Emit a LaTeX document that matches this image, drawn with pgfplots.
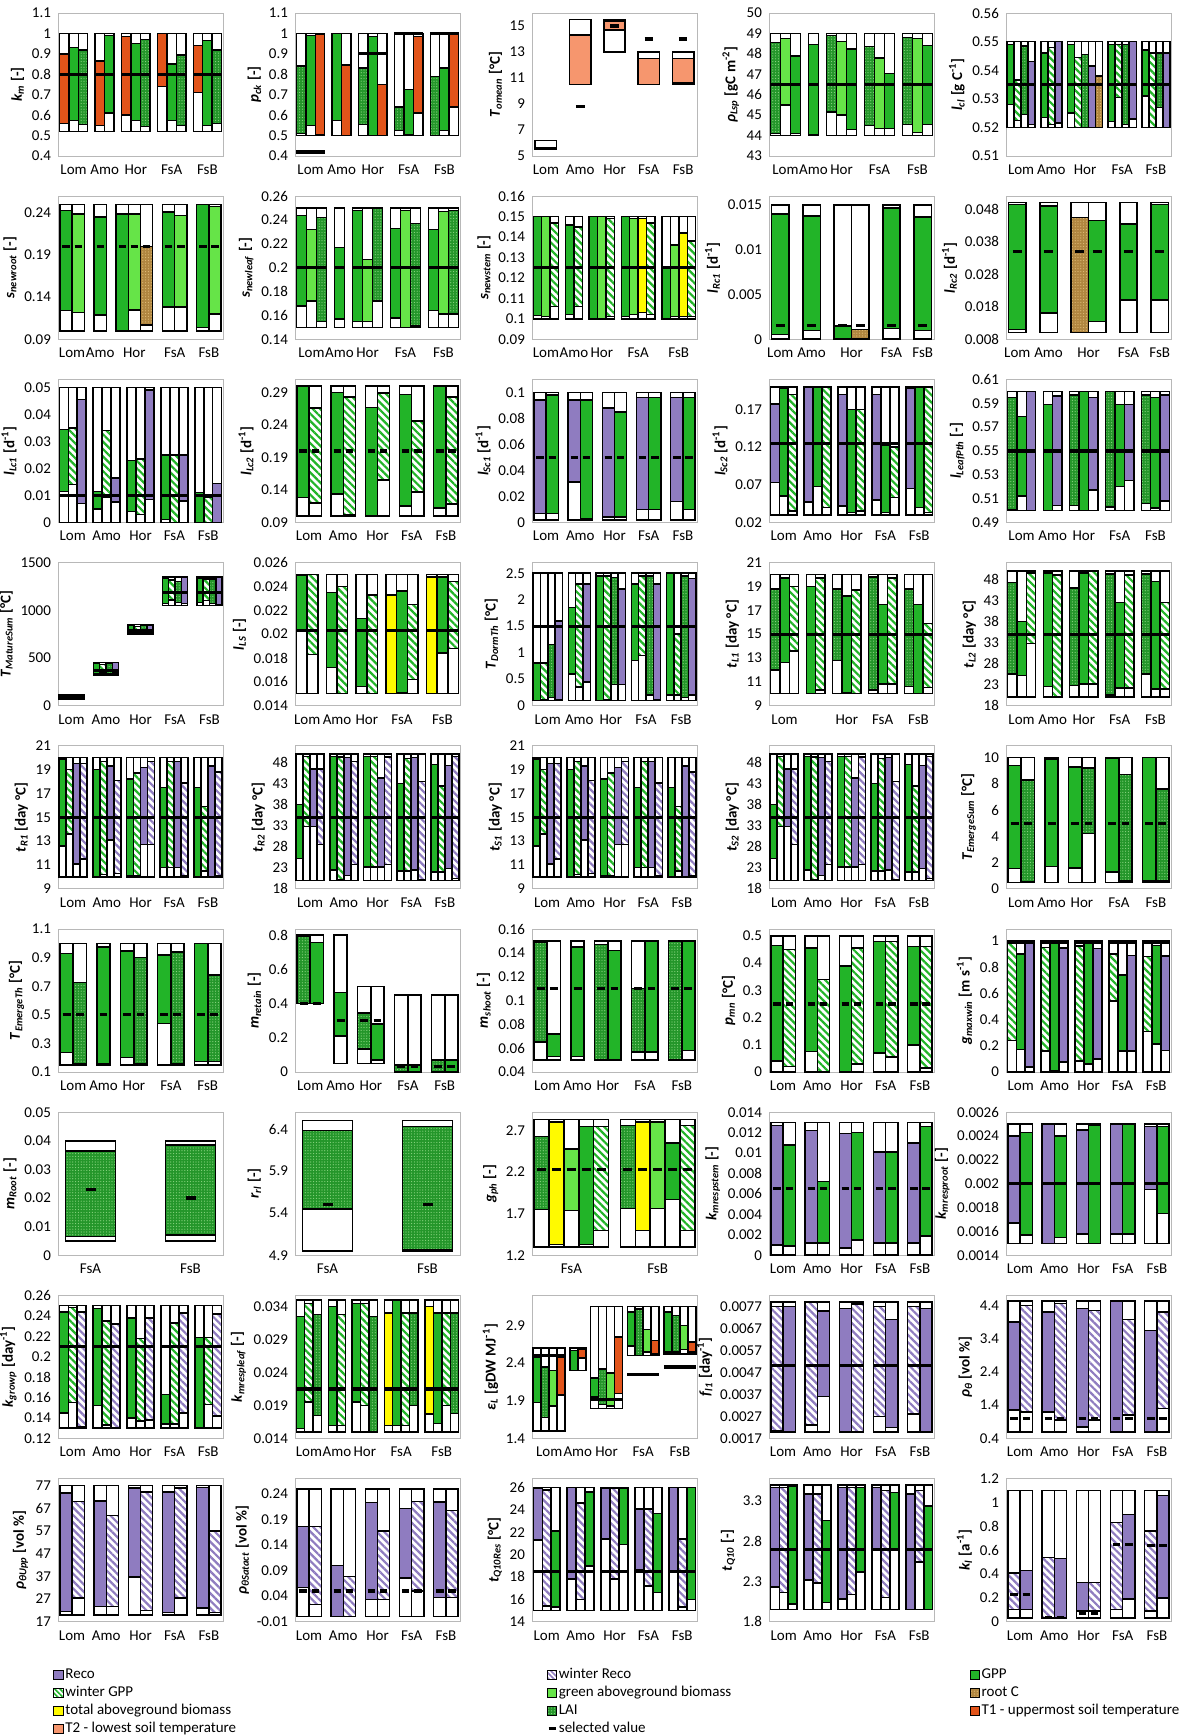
\documentclass[border=0pt]{standalone}
\usepackage{pgfplots}
\pgfplotsset{compat=1.18}
\usepgfplotslibrary{groupplots}
\usetikzlibrary{patterns.meta,calc}
\usepackage{fontspec}
\setmainfont{Carlito}

\definecolor{cR}{RGB}{143,124,192}
\definecolor{cG}{RGB}{34,180,40}
\definecolor{cGB}{RGB}{102,228,72}
\definecolor{cL}{RGB}{36,150,42}
\definecolor{cLd}{RGB}{140,215,130}
\definecolor{cRC}{RGB}{176,134,64}
\definecolor{cRCd}{RGB}{225,190,120}
\definecolor{cTB}{RGB}{255,250,0}
\definecolor{cT1}{RGB}{226,84,26}
\definecolor{cT2}{RGB}{246,150,110}

\newcommand\tk{\fontsize{7.5}{8.5}\selectfont}
\newcommand\lgf{\fontsize{7.5}{8.5}\selectfont}
\newcommand\yl[3]{\textit{#1}\textsubscript{\textit{#2}} [#3]}

\pgfplotsset{
  sN/.style={draw=none,fill=none},
  sR/.style={fill=cR},
  sG/.style={fill=cG},
  sGB/.style={fill=cGB},
  sTB/.style={fill=cTB},
  sT1/.style={fill=cT1},
  sT2/.style={fill=cT2},
  sWR/.style={preaction={fill=white},pattern={Lines[angle=-45,distance=2.6pt,line width=1.1pt]},pattern color=cR},
  sWG/.style={preaction={fill=white},pattern={Lines[angle=-45,distance=2.6pt,line width=1.1pt]},pattern color=cG},
  sL/.style={preaction={fill=cL},pattern={Dots[radius=0.3pt,distance=1.4pt]},pattern color=cLd},
  sRC/.style={preaction={fill=cRC},pattern={Dots[radius=0.3pt,distance=1.4pt]},pattern color=cRCd},
  lsq/.style={legend image code/.code={\draw[draw=black,line width=0.4pt,#1] (0pt,-2.3pt) rectangle (4.6pt,2.3pt);}},
}

\newif\ifperbar
\def\curx{0}\def\pmn{0}\def\pmx{1}\def\gapw{0.8}\def\selin{0.2}\def\cursel{}
\newcommand\St[2]{\gdef\pmn{#1}\gdef\pmx{#2}\gdef\curx{0}\gdef\gapw{0.8}\gdef\selin{0.2}\global\perbarfalse}
\newcommand\PR[2]{\gdef\pmn{#1}\gdef\pmx{#2}}
\newcommand\B[3]{%
  \pgfmathsetmacro\bxa{\curx}\pgfmathsetmacro\bxb{\curx+1}%
  \edef\dotmp{\noexpand\addplot[draw=black,line width=0.75pt,fill=white] coordinates {(\bxa,\pmn)(\bxb,\pmn)(\bxb,\pmx)(\bxa,\pmx)} -- cycle;}\dotmp
  \edef\dotmp{\noexpand\addplot[draw=black,line width=0.75pt,s#1] coordinates {(\bxa,#2)(\bxb,#2)(\bxb,#3)(\bxa,#3)} -- cycle;}\dotmp
  \ifperbar\ifx\cursel\empty\else
    \pgfmathsetmacro\bsa{\bxa+\selin}\pgfmathsetmacro\bsb{\bxb-\selin}%
    \edef\dotmp{\noexpand\addplot[black,line width=1.6pt] coordinates {(\bsa,\cursel)(\bsb,\cursel)};}\dotmp
  \fi\fi
  \xdef\curx{\bxb}}
\newcommand\Site[3]{%
  \xdef\sstart{\curx}\gdef\cursel{#2}%
  #3%
  \ifperbar\else\ifx\cursel\empty\else
    \edef\dotmp{\noexpand\addplot[black,line width=1.6pt] coordinates {(\sstart,\cursel)(\curx,\cursel)};}\dotmp
  \fi\fi
  \pgfmathsetmacro\smid{(\sstart+\curx)/2}%
  \edef\dotmp{\noexpand\node[anchor=north,font=\noexpand\tk,inner sep=0pt,yshift=-4.2pt] at ({axis cs:\smid,0}|-{rel axis cs:0,0}) {#1};}\dotmp
  \pgfmathsetmacro\nxt{\curx+\gapw}\xdef\curx{\nxt}}

\newcommand\tRa{%
\Site{Lom}{15}{\B{G}{12.6}{19.9}\B{WG}{13.6}{19.0}\B{R}{11.1}{19.5}\B{WR}{11.5}{19.5}}
\Site{Amo}{15}{\B{G}{10}{19.0}\B{WG}{10.2}{19.7}\B{R}{13.1}{19.3}\B{WR}{10.3}{18.1}}
\Site{Hor}{15}{\B{G}{10.1}{18.2}\B{WG}{10.1}{18.7}\B{R}{12.7}{19.2}\B{WR}{12.7}{19.7}}
\Site{FsA}{15}{\B{G}{10.8}{17.5}\B{WG}{10.8}{19.7}\B{R}{10.8}{19.7}\B{WR}{10.1}{17.9}}
\Site{FsB}{15}{\B{G}{10}{17.5}\B{WG}{10.5}{15.9}\B{R}{10}{19.3}\B{WR}{10.1}{18.8}}}
\newcommand\tRb{%
\Site{Lom}{35}{\B{G}{25.2}{38}\B{WG}{32.8}{49.5}\B{R}{32.8}{46.5}\B{WR}{28.5}{46.5}}
\Site{Amo}{35}{\B{G}{22.5}{49.5}\B{WG}{20.1}{49.3}\B{R}{21.2}{49.2}\B{WR}{23.8}{48.3}}
\Site{Hor}{35}{\B{G}{23.2}{49.5}\B{WG}{23.2}{49.5}\B{R}{23.2}{44.3}\B{WR}{23.8}{49.3}}
\Site{FsA}{35}{\B{G}{22.2}{43}\B{WG}{22.2}{49}\B{R}{22.5}{49.2}\B{WR}{20.2}{43.5}}
\Site{FsB}{35}{\B{G}{22}{47.5}\B{WG}{22}{42.5}\B{R}{22.8}{47.3}\B{WR}{20.5}{49.5}}}

\begin{document}
\begin{tikzpicture}
\begin{groupplot}[group style={group size=5 by 9, horizontal sep=36pt, vertical sep=20.1pt},
  scale only axis, width=82.5pt, height=71.5pt, clip=false,
  axis line style={draw=black!28}, major tick length=0pt, xtick=\empty,
  enlarge x limits={abs=0.15}, scaled y ticks=false,
  /pgf/number format/fixed, /pgf/number format/precision=4, /pgf/number format/1000 sep={},
  /pgf/number format/assume math mode=true,
  tick label style={font=\tk}, ylabel style={font=\tk\bfseries}, ylabel shift=-3pt]

% 1 k_m
\nextgroupplot[ymin=0.4,ymax=1.1,ytick={0.4,0.5,0.6,0.7,0.8,0.9,1,1.1},ylabel={\yl{k}{m}{-}}]
\St{0.52}{1}
\Site{Lom}{0.8}{\B{T1}{0.56}{0.9}\B{G}{0.575}{0.93}\B{L}{0.555}{0.92}}
\Site{Amo}{0.8}{\B{T1}{0.55}{0.865}\B{G}{0.61}{0.99}}
\Site{Hor}{0.8}{\B{T1}{0.6}{0.985}\B{G}{0.575}{0.95}\B{L}{0.545}{0.97}}
\Site{FsA}{0.8}{\B{T1}{0.74}{1}\B{G}{0.575}{0.85}\B{L}{0.55}{0.895}}
\Site{FsB}{0.8}{\B{T1}{0.71}{0.94}\B{G}{0.55}{0.965}\B{L}{0.56}{0.92}}
% 2 p_ck
\nextgroupplot[ymin=0.4,ymax=1.1,ytick={0.4,0.5,0.6,0.7,0.8,0.9,1,1.1},ylabel={\yl{p}{ck}{-}}]
\St{0.5}{1}
\Site{Lom}{0.42}{\B{L}{0.51}{0.84}\B{G}{0.55}{0.99}\B{T1}{0.505}{0.995}}
\Site{Amo}{}{\B{G}{0.575}{1}\B{T1}{0.5}{0.845}}
\Site{Hor}{0.9}{\B{L}{0.555}{0.83}\B{G}{0.5}{0.985}\B{T1}{0.5}{0.75}}
\Site{FsA}{1}{\B{L}{0.525}{0.64}\B{G}{0.505}{0.725}\B{T1}{0.61}{0.985}}
\Site{FsB}{1}{\B{L}{0.5}{0.79}\B{G}{0.525}{0.83}\B{T1}{0.64}{0.995}}
% 3 T_omean
\nextgroupplot[ymin=5,ymax=16,ytick={5,7,9,11,13,15},ylabel={\yl{T}{omean}{°C}}]
\St{5.5}{6.2}\gdef\gapw{0.6}\gdef\selin{0.3}
\Site{Lom}{5.6}{\B{N}{5.5}{5.5}}
\global\perbartrue
\PR{10.5}{15.5}\Site{Amo}{8.8}{\B{T2}{10.5}{14.3}}
\PR{13}{15.5}\Site{Hor}{15}{\B{T2}{14.7}{15.4}}
\PR{10.5}{13}\Site{FsA}{14}{\B{T2}{10.5}{12.5}}
\Site{FsB}{14}{\B{T2}{10.6}{12.5}}
% 4 rho_Lsp
\nextgroupplot[ymin=43,ymax=50,ytick={43,44,45,46,47,48,49,50},ylabel={\yl{ρ}{Lsp}{gC m\textsuperscript{-2}}}]
\St{44}{49}
\Site{Lom}{46.5}{\B{L}{44.1}{48.55}\B{GB}{45.5}{48.75}\B{G}{44.1}{47.9}}
\Site{Amo}{46.5}{\B{G}{44.05}{48.45}}
\Site{Hor}{46.5}{\B{L}{45.15}{48.9}\B{GB}{45}{48.6}\B{G}{44.3}{48.25}}
\Site{FsA}{46.5}{\B{L}{44.5}{48.35}\B{GB}{44.35}{47.8}\B{G}{44.35}{47.05}}
\Site{FsB}{46.5}{\B{L}{44.55}{48.8}\B{GB}{44.15}{48.75}\B{G}{44.55}{48.4}}
% 5 l_cl
\nextgroupplot[ymin=0.51,ymax=0.56,ytick={0.51,0.52,0.53,0.54,0.55,0.56},ylabel={\yl{l}{cl}{g C\textsuperscript{-1}}}]
\St{0.52}{0.55}
\Site{Lom}{0.535}{\B{G}{0.528}{0.549}\B{WG}{0.5225}{0.5365}\B{L}{0.5245}{0.5485}\B{R}{0.521}{0.543}}
\Site{Amo}{0.535}{\B{G}{0.5235}{0.546}\B{WG}{0.521}{0.548}\B{R}{0.5215}{0.55}}
\Site{Hor}{0.535}{\B{G}{0.525}{0.549}\B{WG}{0.52}{0.5445}\B{L}{0.52}{0.5455}\B{R}{0.52}{0.5415}\B{RC}{0.52}{0.538}}
\Site{FsA}{0.535}{\B{G}{0.522}{0.549}\B{WG}{0.5305}{0.549}\B{L}{0.521}{0.549}\B{R}{0.523}{0.55}}
\Site{FsB}{0.535}{\B{G}{0.531}{0.547}\B{WG}{0.52}{0.546}\B{L}{0.527}{0.546}\B{R}{0.52}{0.546}}

% 6 s_newroot
\nextgroupplot[ymin=0.09,ymax=0.26,ytick={0.09,0.14,0.19,0.24},ylabel={\yl{s}{newroot}{-}}]
\St{0.1}{0.25}\global\perbartrue
\Site{Lom}{0.2}{\B{G}{0.124}{0.243}\B{GB}{0.122}{0.239}}
\Site{Amo}{0.2}{\B{G}{0.119}{0.235}}
\Site{Hor}{0.2}{\B{G}{0.1}{0.239}\B{GB}{0.125}{0.239}\B{RC}{0.107}{0.2}}
\Site{FsA}{0.2}{\B{G}{0.128}{0.241}\B{GB}{0.128}{0.237}}
\Site{FsB}{0.2}{\B{G}{0.104}{0.25}\B{GB}{0.12}{0.248}}
% 7 s_newleaf
\nextgroupplot[ymin=0.14,ymax=0.26,ytick={0.14,0.16,0.18,0.2,0.22,0.24,0.26},ylabel={\yl{s}{newleaf}{-}}]
\St{0.15}{0.25}
\Site{Lom}{0.2}{\B{G}{0.168}{0.244}\B{GB}{0.172}{0.232}\B{L}{0.155}{0.242}}
\Site{Amo}{0.2}{\B{G}{0.157}{0.217}}
\Site{Hor}{0.2}{\B{G}{0.155}{0.248}\B{GB}{0.155}{0.207}\B{L}{0.172}{0.25}}
\Site{FsA}{0.2}{\B{G}{0.158}{0.233}\B{GB}{0.15}{0.248}\B{L}{0.151}{0.237}}
\Site{FsB}{0.2}{\B{G}{0.164}{0.232}\B{GB}{0.161}{0.247}\B{L}{0.161}{0.248}}
% 8 s_newstem
\nextgroupplot[ymin=0.09,ymax=0.16,ytick={0.09,0.1,0.11,0.12,0.13,0.14,0.15,0.16},ylabel={\yl{s}{newstem}{-}}]
\St{0.1}{0.15}
\Site{Lom}{0.125}{\B{G}{0.1015}{0.15}\B{GB}{0.101}{0.15}\B{WG}{0.106}{0.147}}
\Site{Amo}{0.125}{\B{G}{0.102}{0.146}\B{WG}{0.106}{0.145}}
\Site{Hor}{0.125}{\B{G}{0.1}{0.15}\B{GB}{0.1}{0.15}\B{WG}{0.101}{0.149}}
\Site{FsA}{0.125}{\B{G}{0.101}{0.15}\B{GB}{0.102}{0.149}\B{TB}{0.103}{0.149}\B{WG}{0.102}{0.147}}
\Site{FsB}{0.125}{\B{G}{0.1}{0.125}\B{GB}{0.101}{0.136}\B{TB}{0.101}{0.142}\B{WG}{0.101}{0.138}}
% 9 l_Rc1
\nextgroupplot[ymin=0,ymax=0.016,ytick={0,0.005,0.01,0.015},ylabel={\yl{l}{Rc1}{d\textsuperscript{-1}}}]
\St{0}{0.015}\global\perbartrue\gdef\selin{0.25}
\Site{Lom}{0.0015}{\B{G}{0.0005}{0.014}}
\Site{Amo}{0.0015}{\B{G}{0.001}{0.0138}}
\Site{Hor}{0.0015}{\B{G}{0.0001}{0.0015}\B{RC}{0.0001}{0.0011}}
\Site{FsA}{0.0015}{\B{G}{0.0012}{0.0147}}
\Site{FsB}{0.0015}{\B{G}{0.001}{0.0137}}
% 10 l_Rc2
\nextgroupplot[ymin=0.008,ymax=0.052,ytick={0.008,0.018,0.028,0.038,0.048},ylabel={\yl{l}{Rc2}{d\textsuperscript{-1}}}]
\St{0.01}{0.05}\global\perbartrue\gdef\selin{0.25}
\Site{Lom}{0.035}{\B{G}{0.011}{0.0495}}
\Site{Amo}{0.035}{\B{G}{0.016}{0.049}}
\Site{Hor}{0.035}{\B{RC}{0.01}{0.0455}\B{G}{0.0135}{0.0445}}
\Site{FsA}{0.035}{\B{G}{0.02}{0.0435}}
\Site{FsB}{0.035}{\B{G}{0.02}{0.0495}}

% 11 l_Lc1
\nextgroupplot[ymin=0,ymax=0.053,ytick={0,0.01,0.02,0.03,0.04,0.05},ylabel={\yl{l}{Lc1}{d\textsuperscript{-1}}}]
\St{0}{0.05}
\Site{Lom}{0.01}{\B{G}{0.0115}{0.0345}\B{WG}{0.014}{0.035}\B{R}{0.007}{0.0455}}
\Site{Amo}{0.01}{\B{G}{0.005}{0.0115}\B{WG}{0.0095}{0.034}\B{R}{0.0075}{0.0165}}
\Site{Hor}{0.01}{\B{G}{0.004}{0.023}\B{WG}{0.003}{0.0235}\B{R}{0.0085}{0.049}}
\Site{FsA}{0.01}{\B{G}{0.001}{0.025}\B{WG}{0}{0.025}\B{R}{0.008}{0.025}}
\Site{FsB}{0.01}{\B{G}{0}{0.011}\B{WG}{0}{0.0095}\B{R}{0}{0.0145}}
% 12 l_Lc2
\nextgroupplot[ymin=0.09,ymax=0.31,ytick={0.09,0.14,0.19,0.24,0.29},ylabel={\yl{l}{Lc2}{d\textsuperscript{-1}}}]
\St{0.1}{0.3}\global\perbartrue
\Site{Lom}{0.2}{\B{G}{0.128}{0.3}\B{WG}{0.12}{0.266}}
\Site{Amo}{0.2}{\B{G}{0.134}{0.29}\B{WG}{0.102}{0.283}}
\Site{Hor}{0.2}{\B{G}{0.1}{0.267}\B{WG}{0.155}{0.289}}
\Site{FsA}{0.2}{\B{G}{0.115}{0.287}\B{WG}{0.137}{0.246}}
\Site{FsB}{0.2}{\B{G}{0.112}{0.3}\B{WG}{0.118}{0.283}}
% 13 l_Sc1
\nextgroupplot[ymin=0,ymax=0.11,ytick={0,0.02,0.04,0.06,0.08,0.1},ylabel={\yl{l}{Sc1}{d\textsuperscript{-1}}}]
\St{0.002}{0.1}\global\perbartrue
\Site{Lom}{0.05}{\B{R}{0.007}{0.094}\B{G}{0.007}{0.098}}
\Site{Amo}{0.05}{\B{R}{0.031}{0.094}\B{G}{0.003}{0.094}}
\Site{Hor}{0.05}{\B{R}{0.004}{0.088}\B{G}{0.004}{0.085}}
\Site{FsA}{0.05}{\B{R}{0.01}{0.096}\B{G}{0.01}{0.096}}
\Site{FsB}{0.05}{\B{R}{0.016}{0.096}\B{G}{0.01}{0.096}}
% 14 l_Sc2
\nextgroupplot[ymin=0.02,ymax=0.21,ytick={0.02,0.07,0.12,0.17},ylabel={\yl{l}{Sc2}{d\textsuperscript{-1}}}]
\St{0.03}{0.2}
\Site{Lom}{0.125}{\B{R}{0.073}{0.177}\B{G}{0.055}{0.198}\B{WG}{0.035}{0.19}}
\Site{Amo}{0.125}{\B{R}{0.047}{0.2}\B{G}{0.068}{0.2}\B{WG}{0.04}{0.2}}
\Site{Hor}{0.125}{\B{R}{0.042}{0.19}\B{G}{0.033}{0.17}\B{WG}{0.035}{0.17}}
\Site{FsA}{0.125}{\B{R}{0.05}{0.19}\B{G}{0.033}{0.123}\B{WG}{0.053}{0.12}}
\Site{FsB}{0.125}{\B{R}{0.065}{0.198}\B{G}{0.04}{0.2}\B{WG}{0.033}{0.2}}
% 15 l_LeafPth
\nextgroupplot[ymin=0.49,ymax=0.61,ytick={0.49,0.51,0.53,0.55,0.57,0.59,0.61},ylabel={\yl{l}{LeafPth}{-}}]
\St{0.5}{0.6}
\Site{Lom}{0.55}{\B{L}{0.501}{0.595}\B{G}{0.512}{0.579}\B{R}{0.5}{0.6}}
\Site{Amo}{0.55}{\B{G}{0.5}{0.589}\B{R}{0.504}{0.596}}
\Site{Hor}{0.55}{\B{L}{0.504}{0.597}\B{G}{0.5}{0.6}\B{R}{0.517}{0.595}}
\Site{FsA}{0.55}{\B{L}{0.503}{0.6}\B{G}{0.52}{0.589}\B{R}{0.525}{0.589}}
\Site{FsB}{0.55}{\B{L}{0.506}{0.597}\B{G}{0.502}{0.595}\B{R}{0.508}{0.597}}

% 16 T_MatureSum
\nextgroupplot[ymin=0,ymax=1500,ytick={0,500,1000,1500},ylabel={\yl{T}{MatureSum}{°C}}]
\St{70}{110}\gdef\gapw{1.5}
\Site{Lom}{90}{\B{G}{75}{105}\B{WG}{75}{105}\B{L}{75}{105}\B{R}{75}{105}}
\PR{320}{450}\Site{Amo}{370}{\B{G}{330}{440}\B{WG}{340}{430}\B{L}{330}{445}\B{R}{340}{450}}
\PR{750}{850}\Site{Hor}{790}{\B{G}{760}{840}\B{WG}{770}{830}\B{L}{760}{845}\B{R}{770}{840}}
\PR{1050}{1350}\Site{FsA}{1190}{\B{G}{1070}{1340}\B{WG}{1110}{1320}\B{L}{1080}{1300}\B{R}{1070}{1350}}
\Site{FsB}{1190}{\B{G}{1080}{1340}\B{WG}{1100}{1330}\B{L}{1070}{1330}\B{R}{1060}{1350}}
% 17 l_LS
\nextgroupplot[ymin=0.014,ymax=0.026,ytick={0.014,0.016,0.018,0.02,0.022,0.024,0.026},ylabel={\yl{l}{LS}{-}}]
\St{0.015}{0.025}
\Site{Lom}{0.0203}{\B{G}{0.0203}{0.0249}\B{WG}{0.0183}{0.025}}
\Site{Amo}{0.0203}{\B{G}{0.0172}{0.0235}\B{WG}{0.015}{0.024}}
\Site{Hor}{0.0203}{\B{G}{0.0156}{0.0213}\B{WG}{0.015}{0.0233}}
\Site{FsA}{0.0203}{\B{TB}{0.015}{0.0233}\B{G}{0.0151}{0.0236}\B{WG}{0.0162}{0.0225}}
\Site{FsB}{0.0203}{\B{TB}{0.015}{0.0248}\B{G}{0.0184}{0.0248}\B{WG}{0.0188}{0.0244}}
% 18 T_DormTh
\nextgroupplot[ymin=0,ymax=2.7,ytick={0,0.5,1,1.5,2,2.5},ylabel={\yl{T}{DormTh}{°C}}]
\St{0.1}{2.5}
\Site{Lom}{1.5}{\B{G}{0.1}{0.8}\B{WG}{0.12}{0.8}\B{L}{0.15}{1.15}\B{R}{0.12}{1.6}}
\Site{Amo}{1.5}{\B{G}{0.6}{1.85}\B{WG}{0.35}{2.3}\B{R}{0.45}{2.3}}
\Site{Hor}{1.5}{\B{G}{0.1}{2.45}\B{WG}{0.12}{2.45}\B{L}{0.4}{2.42}\B{R}{0.4}{2.2}}
\Site{FsA}{1.5}{\B{G}{0.85}{2.3}\B{WG}{0.95}{2.45}\B{L}{0.2}{2.45}\B{R}{0.12}{2.3}}
\Site{FsB}{1.5}{\B{G}{0.2}{2.5}\B{WG}{0.2}{1.35}\B{L}{0.15}{2.45}\B{R}{0.2}{2.4}}
% 19 t_L1
\nextgroupplot[ymin=9,ymax=21,ytick={9,11,13,15,17,19,21},ylabel={\yl{t}{L1}{day °C}}]
\St{10}{20}
\Site{Lom}{15}{\B{L}{12}{18.8}\B{G}{12.6}{19.7}\B{WG}{13.6}{19}}
\Site{}{15}{\B{G}{10}{19}\B{WG}{10.3}{19.7}}
\Site{Hor}{15}{\B{L}{12.8}{18.8}\B{G}{10.1}{18.2}\B{WG}{10}{18.7}}
\Site{FsA}{15}{\B{L}{10.3}{19.8}\B{G}{10.8}{17.5}\B{WG}{10.8}{19.7}}
\Site{FsB}{15}{\B{L}{10.6}{18.8}\B{G}{10}{17.5}\B{WG}{10.5}{15.9}}
% 20 t_L2
\nextgroupplot[ymin=18,ymax=52,ytick={18,23,28,33,38,43,48},ylabel={\yl{t}{L2}{day °C}}]
\St{20}{50}
\Site{Lom}{35}{\B{L}{25.5}{47.3}\B{G}{25.2}{38}\B{WG}{32.8}{49.5}}
\Site{Amo}{35}{\B{G}{22.5}{49.5}\B{WG}{20}{49}}
\Site{Hor}{35}{\B{L}{22.8}{46}\B{G}{23.2}{49.5}\B{WG}{23.2}{50}}
\Site{FsA}{35}{\B{L}{20.5}{49.3}\B{G}{22.2}{42.5}\B{WG}{22.2}{49}}
\Site{FsB}{35}{\B{L}{25.5}{49.3}\B{G}{22}{47.5}\B{WG}{22}{42.5}}

% 21 t_R1
\nextgroupplot[ymin=9,ymax=21,ytick={9,11,13,15,17,19,21},ylabel={\yl{t}{R1}{day °C}}]
\St{10}{20}\tRa
% 22 t_R2
\nextgroupplot[ymin=18,ymax=52,ytick={18,23,28,33,38,43,48},ylabel={\yl{t}{R2}{day °C}}]
\St{20}{50}\tRb
% 23 t_S1
\nextgroupplot[ymin=9,ymax=21,ytick={9,11,13,15,17,19,21},ylabel={\yl{t}{S1}{day °C}}]
\St{10}{20}\tRa
% 24 t_S2
\nextgroupplot[ymin=18,ymax=52,ytick={18,23,28,33,38,43,48},ylabel={\yl{t}{S2}{day °C}}]
\St{20}{50}\tRb
% 25 T_EmergeSum
\nextgroupplot[ymin=0,ymax=10.9,ytick={0,2,4,6,8,10},ylabel={\yl{T}{EmergeSum}{°C}}]
\St{0.5}{10}\global\perbartrue
\Site{Lom}{4.95}{\B{G}{1.55}{9.4}\B{L}{0.53}{8.3}}
\Site{Amo}{4.95}{\B{G}{1.7}{9.9}}
\Site{Hor}{4.95}{\B{G}{1.6}{9.3}\B{L}{4.2}{9.2}}
\Site{FsA}{4.95}{\B{G}{1.3}{9.95}\B{L}{0.6}{8.7}}
\Site{FsB}{4.95}{\B{G}{0.6}{10}\B{L}{0.6}{7.6}}

% 26 T_EmergeTh
\nextgroupplot[ymin=0.1,ymax=1.1,ytick={0.1,0.3,0.5,0.7,0.9,1.1},ylabel={\yl{T}{EmergeTh}{°C}}]
\St{0.15}{1}\global\perbartrue
\Site{Lom}{0.5}{\B{G}{0.235}{0.93}\B{L}{0.155}{0.725}}
\Site{Amo}{0.5}{\B{G}{0.16}{0.975}}
\Site{Hor}{0.5}{\B{G}{0.2}{0.945}\B{L}{0.155}{0.9}}
\Site{FsA}{0.5}{\B{G}{0.44}{0.92}\B{L}{0.155}{0.94}}
\Site{FsB}{0.5}{\B{G}{0.175}{1}\B{L}{0.175}{0.78}}
% 27 m_retain
\nextgroupplot[ymin=0,ymax=0.835,ytick={0,0.2,0.4,0.6,0.8},ylabel={\yl{m}{retain}{-}}]
\St{0.4}{0.8}\global\perbartrue
\Site{Lom}{0.4}{\B{L}{0.4}{0.795}\B{G}{0.4}{0.755}}
\PR{0.05}{0.8}\Site{Amo}{0.3}{\B{G}{0.21}{0.465}}
\PR{0.05}{0.5}\Site{Hor}{0.3}{\B{L}{0.135}{0.345}\B{G}{0.07}{0.28}}
\PR{0}{0.45}\Site{FsA}{0.03}{\B{L}{0}{0.04}\B{G}{0}{0.04}}
\Site{FsB}{0.03}{\B{L}{0}{0.07}\B{G}{0}{0.07}}
% 28 m_shoot
\nextgroupplot[ymin=0.04,ymax=0.16,ytick={0.04,0.06,0.08,0.1,0.12,0.14,0.16},ylabel={\yl{m}{shoot}{-}}]
\St{0.05}{0.15}\global\perbartrue
\Site{Lom}{0.11}{\B{L}{0.065}{0.149}\B{G}{0.053}{0.072}}
\Site{Amo}{0.11}{\B{G}{0.053}{0.145}}
\Site{Hor}{0.11}{\B{L}{0.05}{0.147}\B{G}{0.05}{0.142}}
\Site{FsA}{0.11}{\B{L}{0.057}{0.11}\B{G}{0.057}{0.15}}
\Site{FsB}{0.11}{\B{L}{0.05}{0.15}\B{G}{0.058}{0.15}}
% 29 p_mn
\nextgroupplot[ymin=0,ymax=0.525,ytick={0,0.1,0.2,0.3,0.4,0.5},ylabel={\yl{p}{mn}{°C}}]
\St{0}{0.5}\global\perbartrue
\Site{Lom}{0.25}{\B{G}{0.04}{0.465}\B{WG}{0.02}{0.45}}
\Site{Amo}{0.25}{\B{G}{0.075}{0.455}\B{WG}{0}{0.34}}
\Site{Hor}{0.25}{\B{G}{0}{0.39}\B{WG}{0.03}{0.455}}
\Site{FsA}{0.25}{\B{G}{0.07}{0.48}\B{WG}{0.055}{0.48}}
\Site{FsB}{0.25}{\B{G}{0.1}{0.46}\B{WG}{0.015}{0.46}}
% 30 g_maxwin
\nextgroupplot[ymin=0,ymax=1.09,ytick={0,0.2,0.4,0.6,0.8,1},ylabel={\yl{g}{maxwin}{m s\textsuperscript{-1}}}]
\St{0}{1}
\Site{Lom}{0.99}{\B{WG}{0.24}{0.99}\B{G}{0.17}{0.9}\B{R}{0.04}{0.995}}
\Site{Amo}{0.99}{\B{WG}{0.16}{0.95}\B{G}{0.01}{0.98}\B{R}{0.075}{0.945}}
\Site{Hor}{0.99}{\B{WG}{0.085}{0.96}\B{G}{0.06}{0.98}\B{R}{0.1}{0.94}}
\Site{FsA}{0.99}{\B{WG}{0.54}{0.9}\B{G}{0.16}{0.74}\B{R}{0.16}{0.89}}
\Site{FsB}{0.99}{\B{WG}{0.31}{0.88}\B{G}{0.215}{0.965}\B{R}{0.165}{0.885}}

% 31 m_Root
\nextgroupplot[ymin=0,ymax=0.05,ytick={0,0.01,0.02,0.03,0.04,0.05},ylabel={\yl{m}{Root}{-}}]
\St{0.005}{0.04}\global\perbartrue\gdef\gapw{1.0}\gdef\selin{0.4}
\Site{FsA}{0.023}{\B{L}{0.0065}{0.0365}}
\Site{FsB}{0.02}{\B{L}{0.007}{0.0385}}
% 32 r_rl
\nextgroupplot[ymin=4.9,ymax=6.6,ytick={4.9,5.4,5.9,6.4},ylabel={\yl{r}{rl}{-}}]
\St{4.95}{6.5}\global\perbartrue\gdef\gapw{1.0}\gdef\selin{0.4}
\Site{FsA}{5.5}{\B{L}{5.45}{6.38}}
\Site{FsB}{5.5}{\B{L}{4.97}{6.43}}
% 33 g_ph
\nextgroupplot[ymin=1.2,ymax=2.92,ytick={1.2,1.7,2.2,2.7},ylabel={\yl{g}{ph}{-}}]
\St{1.3}{2.83}\global\perbartrue
\Site{FsA}{2.23}{\B{L}{1.75}{2.63}\B{TB}{1.33}{2.8}\B{GB}{1.74}{2.48}\B{G}{1.33}{2.75}\B{WG}{1.5}{2.75}}
\Site{FsB}{2.23}{\B{L}{1.76}{2.76}\B{TB}{1.5}{2.8}\B{GB}{1.76}{2.8}\B{G}{1.87}{2.55}\B{WG}{1.5}{2.76}}
% 34 k_mrespstem
\nextgroupplot[ymin=0,ymax=0.014,ytick={0,0.002,0.004,0.006,0.008,0.01,0.012,0.014},ylabel={\yl{k}{mrespstem}{-}}]
\St{0}{0.013}\global\perbartrue
\Site{Lom}{0.0065}{\B{R}{0.001}{0.0127}\B{G}{0.0009}{0.0108}}
\Site{Amo}{0.0065}{\B{R}{0.0012}{0.0122}\B{G}{0.0012}{0.0072}}
\Site{Hor}{0.0065}{\B{R}{0.0007}{0.0119}\B{G}{0.0015}{0.012}}
\Site{FsA}{0.0065}{\B{R}{0.0012}{0.0101}\B{G}{0.0012}{0.0101}}
\Site{FsB}{0.0065}{\B{R}{0.0012}{0.011}\B{G}{0.0019}{0.0126}}
% 35 k_mresproot
\nextgroupplot[ymin=0.0014,ymax=0.0026,ytick={0.0014,0.0016,0.0018,0.002,0.0022,0.0024,0.0026},ylabel={\yl{k}{mresproot}{-}}]
\St{0.0015}{0.0025}
\Site{Lom}{0.002}{\B{R}{0.00167}{0.0024}\B{G}{0.00157}{0.00243}}
\Site{Amo}{0.002}{\B{R}{0.0015}{0.0025}\B{G}{0.00155}{0.0024}}
\Site{Hor}{0.002}{\B{R}{0.00158}{0.00245}\B{G}{0.0015}{0.00249}}
\Site{FsA}{0.002}{\B{R}{0.00158}{0.0025}\B{G}{0.00158}{0.0025}}
\Site{FsB}{0.002}{\B{R}{0.00195}{0.00248}\B{G}{0.00175}{0.00248}}

% 36 k_growp
\nextgroupplot[ymin=0.12,ymax=0.26,ytick={0.12,0.14,0.16,0.18,0.2,0.22,0.24,0.26},ylabel={\yl{k}{growp}{day\textsuperscript{-1}}}]
\St{0.13}{0.25}
\Site{Lom}{0.21}{\B{G}{0.145}{0.244}\B{WG}{0.155}{0.248}\B{WR}{0.131}{0.244}}
\Site{Amo}{0.21}{\B{G}{0.152}{0.247}\B{WG}{0.133}{0.235}\B{WR}{0.13}{0.232}}
\Site{Hor}{0.21}{\B{G}{0.14}{0.238}\B{WG}{0.137}{0.218}\B{WR}{0.138}{0.238}}
\Site{FsA}{0.21}{\B{G}{0.134}{0.163}\B{WG}{0.134}{0.233}\B{WR}{0.145}{0.243}}
\Site{FsB}{0.21}{\B{G}{0.13}{0.219}\B{WG}{0.153}{0.219}\B{WR}{0.142}{0.242}}
% 37 k_mrespleaf
\nextgroupplot[ymin=0.014,ymax=0.0357,ytick={0.014,0.019,0.024,0.029,0.034},ylabel={\yl{k}{mrespleaf}{-}}]
\St{0.015}{0.035}
\Site{Lom}{0.0215}{\B{G}{0.0155}{0.0325}\B{WG}{0.0195}{0.0345}\B{L}{0.0175}{0.0328}}
\Site{Amo}{0.0215}{\B{G}{0.016}{0.034}\B{WG}{0.016}{0.0328}}
\Site{Hor}{0.0215}{\B{G}{0.0195}{0.0345}\B{WG}{0.019}{0.0345}\B{L}{0.015}{0.0325}}
\Site{FsA}{0.0215}{\B{TB}{0.016}{0.033}\B{G}{0.016}{0.035}\B{WG}{0.016}{0.033}\B{L}{0.019}{0.033}}
\Site{FsB}{0.0215}{\B{TB}{0.0177}{0.034}\B{G}{0.0163}{0.033}\B{WG}{0.019}{0.033}\B{L}{0.0178}{0.033}}
% 38 eps_L
\nextgroupplot[ymin=1.4,ymax=3.3,ytick={1.4,1.9,2.4,2.9},ylabel={\yl{ε}{L}{gDW MJ\textsuperscript{-1}}}]
\St{1.5}{2.6}\gdef\gapw{0.6}
\Site{Lom}{2.5}{\B{G}{1.88}{2.48}\B{L}{1.68}{2.35}\B{GB}{1.83}{2.3}\B{T1}{1.98}{2.48}}
\PR{2.3}{2.6}\Site{Amo}{}{\B{G}{2.3}{2.57}\B{T1}{2.47}{2.58}}
\PR{1.8}{3.15}\Site{Hor}{1.92}{\B{G}{1.95}{2.2}\B{L}{1.85}{2.32}\B{GB}{1.83}{2.27}\B{T1}{2.0}{2.75}}
\PR{2.5}{3.15}\Site{FsA}{2.25}{\B{G}{2.63}{3.08}\B{L}{2.5}{3.12}\B{GB}{2.55}{2.85}\B{T1}{2.52}{2.7}}
\PR{2.52}{3.15}\Site{FsB}{2.35}{\B{G}{2.55}{3.08}\B{L}{2.55}{3.03}\B{GB}{2.58}{2.9}\B{T1}{2.55}{2.68}}
% 39 f_l1
\nextgroupplot[ymin=0.0017,ymax=0.0082,ytick={0.0017,0.0027,0.0037,0.0047,0.0057,0.0067,0.0077},ylabel={\yl{f}{l1}{day\textsuperscript{-1}}}]
\St{0.002}{0.0079}
\Site{Lom}{0.005}{\B{WR}{0.00205}{0.0077}\B{R}{0.002}{0.0077}}
\Site{Amo}{0.005}{\B{WR}{0.0023}{0.0079}\B{R}{0.0036}{0.0075}}
\Site{Hor}{0.005}{\B{R}{0.002}{0.0076}\B{WR}{0.002}{0.0078}}
\Site{FsA}{0.005}{\B{WR}{0.0027}{0.0077}\B{R}{0.0022}{0.0071}}
\Site{FsB}{0.005}{\B{WR}{0.0028}{0.0077}\B{R}{0.002}{0.0076}}
% 40 rho_theta
\nextgroupplot[ymin=0.4,ymax=4.7,ytick={0.4,1.4,2.4,3.4,4.4},ylabel={\yl{ρ}{θ}{vol \%}}]
\St{0.6}{4.53}\global\perbartrue
\Site{Lom}{1}{\B{R}{1.25}{3.9}\B{WR}{1.2}{4.4}}
\Site{Amo}{1}{\B{R}{1.2}{4.2}\B{WR}{0.95}{4.45}}
\Site{Hor}{1}{\B{R}{0.75}{4.3}\B{WR}{0.95}{4.25}}
\Site{FsA}{1}{\B{R}{0.6}{4.53}\B{WR}{1.1}{3.97}}
\Site{FsB}{1}{\B{R}{0.6}{3.65}\B{WR}{1.3}{4.2}}

% 41 rho_theta Upp
\nextgroupplot[ymin=17,ymax=80,ytick={17,27,37,47,57,67,77},ylabel={\yl{ρ}{θUpp}{vol \%}}]
\St{20}{77}
\Site{Lom}{}{\B{R}{21.5}{73.7}\B{WR}{27.3}{69.9}}
\Site{Amo}{}{\B{R}{23.7}{70.1}\B{WR}{23.7}{63.7}}
\Site{Hor}{}{\B{R}{36.6}{75.9}\B{WR}{21.9}{74.1}}
\Site{FsA}{}{\B{R}{21}{74.1}\B{WR}{27.3}{75.9}}
\Site{FsB}{}{\B{R}{23}{76.1}\B{WR}{21}{57}}
% 42 rho_theta Satact
\nextgroupplot[ymin=-0.01,ymax=0.27,ytick={-0.01,0.04,0.09,0.14,0.19,0.24},ylabel={\yl{ρ}{θSatact}{vol \%}}]
\St{0}{0.25}\global\perbartrue
\Site{Lom}{0.05}{\B{R}{0.057}{0.176}\B{WR}{0.024}{0.176}}
\Site{Amo}{0.05}{\B{R}{0}{0.1}\B{WR}{0}{0.078}}
\Site{Hor}{0.05}{\B{R}{0.033}{0.223}\B{WR}{0.033}{0.167}}
\Site{FsA}{0.05}{\B{R}{0.075}{0.212}\B{WR}{0.05}{0.225}}
\Site{FsB}{0.05}{\B{R}{0.037}{0.224}\B{WR}{0.037}{0.208}}
% 43 t_Q10Res
\nextgroupplot[ymin=14,ymax=26.8,ytick={14,16,18,20,22,24,26},ylabel={\yl{t}{Q10Res}{°C}}]
\St{15}{26}
\Site{Lom}{18.5}{\B{R}{21.3}{25.9}\B{WR}{15.4}{25.8}\B{G}{15.3}{22.1}}
\Site{Amo}{18.5}{\B{R}{17.8}{26}\B{WR}{16}{24.6}\B{G}{19}{25.6}}
\Site{Hor}{18.5}{\B{R}{21.4}{25.9}\B{WR}{17.8}{25.9}\B{G}{20.9}{25.9}}
\Site{FsA}{18.5}{\B{R}{18.6}{24.1}\B{WR}{17.2}{24.1}\B{G}{16.6}{23.7}}
\Site{FsB}{18.5}{\B{R}{18.5}{26}\B{WR}{15.3}{21.4}\B{G}{16}{26}}
% 44 t_Q10
\nextgroupplot[ymin=1.8,ymax=3.58,ytick={1.8,2.3,2.8,3.3},ylabel={\yl{t}{Q10}{-}}]
\St{1.95}{3.5}
\Site{Lom}{2.7}{\B{R}{2.23}{3.47}\B{WR}{2.16}{3.47}\B{G}{2.02}{3.49}}
\Site{Amo}{2.7}{\B{R}{2.32}{3.39}\B{WR}{2.28}{3.39}\B{G}{2.04}{3.06}}
\Site{Hor}{2.7}{\B{R}{2.08}{3.47}\B{WR}{2.14}{3.47}\B{G}{2.42}{3.47}}
\Site{FsA}{2.7}{\B{R}{2.7}{3.47}\B{WR}{2.1}{3.43}\B{G}{2.7}{3.41}}
\Site{FsB}{2.7}{\B{R}{1.95}{3.39}\B{WR}{2.54}{3.43}\B{G}{1.95}{3.24}}
% 45 k_l
\nextgroupplot[ymin=0,ymax=1.2,ytick={0,0.2,0.4,0.6,0.8,1,1.2},ylabel={\yl{k}{l}{a\textsuperscript{-1}}}]
\St{0.03}{1.1}\global\perbartrue
\Site{Lom}{0.23}{\B{WR}{0.1}{0.41}\B{R}{0.1}{0.43}}
\Site{Amo}{0.035}{\B{WR}{0.03}{0.54}\B{R}{0.03}{0.53}}
\Site{Hor}{0.07}{\B{R}{0.09}{0.33}\B{WR}{0.09}{0.33}}
\Site{FsA}{0.65}{\B{WR}{0.1}{0.83}\B{R}{0.19}{0.9}}
\Site{FsB}{0.64}{\B{WR}{0.09}{0.76}\B{R}{0.2}{1.06}}
\end{groupplot}

% legends
\pgfplotsset{legsty/.style={hide axis, scale only axis, width=1pt, height=1pt, xmin=0,xmax=1,ymin=0,ymax=1,
  legend cell align=left,
  legend style={at={(0,1)},anchor=north west,draw=none,fill=none,inner sep=0pt,outer sep=0pt,font=\lgf,row sep=0.4pt,
  nodes={inner sep=0.8pt, text height=5.6pt, text depth=1.4pt}}}}
\begin{axis}[legsty, at={($(group c1r1.north west)+(-2.5pt,-826.5pt)$)}, anchor=north west]
\addlegendimage{lsq={fill=cR}}\addlegendentry{Reco}
\addlegendimage{lsq={preaction={fill=white},pattern={Lines[angle=-45,distance=1.8pt,line width=0.8pt]},pattern color=cG}}\addlegendentry{winter GPP}
\addlegendimage{lsq={fill=cTB}}\addlegendentry{total aboveground biomass}
\addlegendimage{lsq={fill=cT2}}\addlegendentry{T2 - lowest soil temperature}
\end{axis}
\begin{axis}[legsty, at={($(group c1r1.north west)+(244.5pt,-826.5pt)$)}, anchor=north west]
\addlegendimage{lsq={preaction={fill=white},pattern={Lines[angle=-45,distance=1.8pt,line width=0.8pt]},pattern color=cR}}\addlegendentry{winter Reco}
\addlegendimage{lsq={fill=cGB}}\addlegendentry{green aboveground biomass}
\addlegendimage{lsq={preaction={fill=cL},pattern={Dots[radius=0.3pt,distance=1.4pt]},pattern color=cLd}}\addlegendentry{LAI}
\addlegendimage{legend image code/.code={\draw[line width=1.5pt] (0.6pt,0pt) -- (4.2pt,0pt);}}\addlegendentry{selected value}
\end{axis}
\begin{axis}[legsty, at={($(group c1r1.north west)+(456pt,-826.5pt)$)}, anchor=north west]
\addlegendimage{lsq={fill=cG}}\addlegendentry{GPP}
\addlegendimage{lsq={preaction={fill=cRC},pattern={Dots[radius=0.3pt,distance=1.4pt]},pattern color=cRCd}}\addlegendentry{root C}
\addlegendimage{lsq={fill=cT1}}\addlegendentry{T1 - uppermost soil temperature}
\end{axis}

\pgfresetboundingbox
\path[use as bounding box] ($(group c1r1.north west)+(-29pt,6.5pt)$) rectangle ++(589.5pt,-868pt);
\end{tikzpicture}
\end{document}
